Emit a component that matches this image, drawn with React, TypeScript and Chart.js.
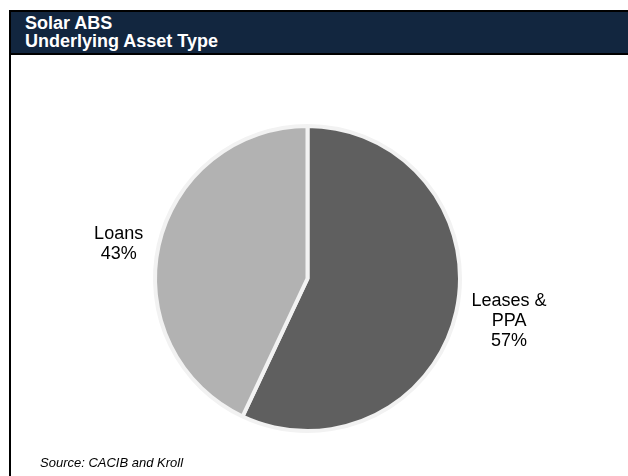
import React, { useEffect, useRef } from "react";
import { Chart, registerables } from "chart.js";

Chart.register(...registerables);

const TITLE_LINES = ["Solar ABS", "Underlying Asset Type"];
const SOURCE_TEXT = "Source: CACIB and Kroll";
const CATEGORIES = ["Leases & PPA", "Loans"];
const LABEL_LINES = [["Leases &", "PPA"], ["Loans"]];
const VALUES = [57, 43];
const COLORS = ["#5f5f5f", "#b2b2b2"];

const FONT = '"Liberation Sans", Arial, Helvetica, sans-serif';

const labelPlugin = {
  id: "outsideLabels",
  afterDatasetsDraw(chart: any) {
    const ctx = chart.ctx;
    const meta = chart.getDatasetMeta(0);
    const total = VALUES.reduce((a, b) => a + b, 0);
    ctx.save();
    ctx.font = "18px " + FONT;
    ctx.fillStyle = "#000000";
    ctx.textAlign = "center";
    ctx.textBaseline = "middle";
    meta.data.forEach((arc: any, i: number) => {
      const { x, y, startAngle, endAngle, outerRadius } = arc.getProps(
        ["x", "y", "startAngle", "endAngle", "outerRadius"],
        true
      );
      const pct = Math.round((VALUES[i] / total) * 100) + "%";
      const lines = [...LABEL_LINES[i], pct];
      const maxW = Math.max(...lines.map((l) => ctx.measureText(l).width));
      const mid = (startAngle + endAngle) / 2;
      const dist = outerRadius + 16.5 + maxW / 2;
      const cx = x + Math.cos(mid) * dist;
      const cy = y + 3 + Math.sin(mid) * dist * 0.88;
      const lh = 20;
      lines.forEach((line, j) => {
        ctx.fillText(line, cx, cy + (j - (lines.length - 1) / 2) * lh);
      });
    });
    ctx.restore();
  },
};

function PieChart() {
  const ref = useRef<HTMLCanvasElement | null>(null);
  useEffect(() => {
    if (!ref.current) return;
    const chart = new Chart(ref.current, {
      type: "pie",
      data: {
        labels: CATEGORIES,
        datasets: [
          {
            data: VALUES,
            backgroundColor: COLORS,
            borderColor: "#f2f2f2",
            borderWidth: 4,
            hoverOffset: 0,
          },
        ],
      },
      options: {
        animation: false,
        responsive: false,
        devicePixelRatio: 1,
        radius: 152.5,
        layout: { padding: { left: 0, right: 13, top: 81, bottom: 0 } },
        plugins: {
          legend: { display: false },
          tooltip: { enabled: false },
        },
      } as any,
      plugins: [labelPlugin],
    });
    return () => chart.destroy();
  }, []);
  return (
    <canvas
      ref={ref}
      width={628}
      height={476}
      style={{ position: "fixed", left: 0, top: 0, width: 628, height: 476 }}
    />
  );
}

export default function App() {
  return (
    <div>
      <div
        style={{
          position: "fixed",
          left: 9,
          top: 10,
          width: 619,
          height: 480,
          borderLeft: "2px solid #000",
          boxSizing: "border-box",
          background: "#ffffff",
        }}
      >
        <div
          style={{
            borderTop: "2px solid #000",
            borderBottom: "2px solid #000",
            background: "#12263f",
            color: "#ffffff",
            fontFamily: FONT,
            fontWeight: "bold",
            fontSize: 18,
            lineHeight: "18px",
            paddingLeft: 14,
            paddingTop: 2,
            boxSizing: "content-box",
            height: 39,
          }}
        >
          {TITLE_LINES.map((t) => (
            <div key={t}>{t}</div>
          ))}
        </div>
      </div>
      <PieChart />
      <div
        style={{
          position: "fixed",
          left: 40,
          top: 456,
          fontFamily: FONT,
          fontStyle: "italic",
          fontSize: 13,
          lineHeight: "13px",
          color: "#000",
          whiteSpace: "nowrap",
        }}
      >
        {SOURCE_TEXT}
      </div>
    </div>
  );
}
